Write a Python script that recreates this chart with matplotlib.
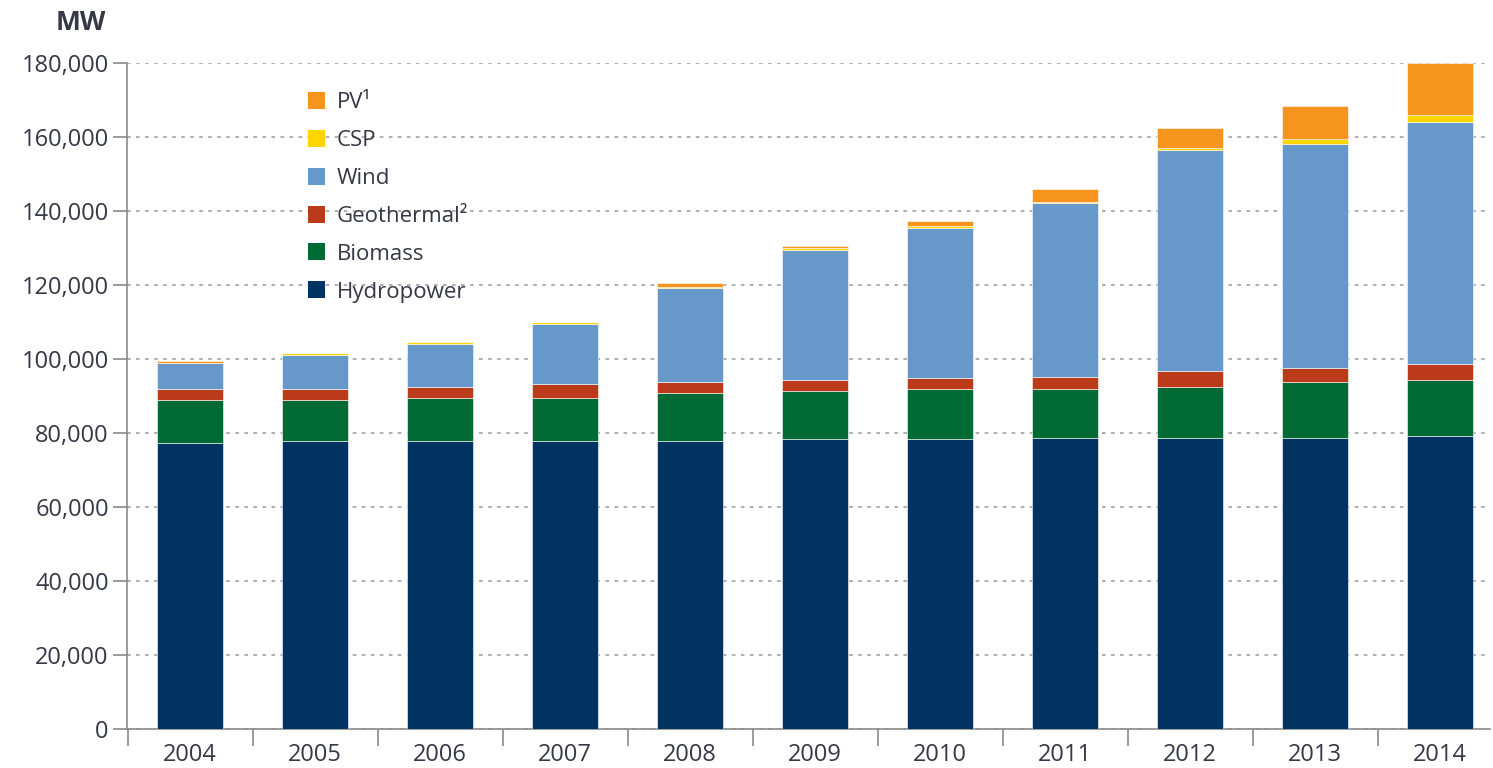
import matplotlib
matplotlib.use("Agg")
import matplotlib.pyplot as plt
from matplotlib.patches import Patch
import numpy as np

years = ["2004", "2005", "2006", "2007", "2008", "2009", "2010", "2011", "2012", "2013", "2014"]
hydropower = [77300, 77800, 77800, 77800, 77800, 78500, 78500, 78600, 78600, 78600, 79200]
biomass    = [11600, 11100, 11700, 11700, 12900, 12800, 13400, 13300, 13900, 15100, 15100]
geothermal = [3000, 3000, 2900, 3700, 3000, 3000, 3000, 3200, 4300, 3800, 4300]
wind       = [7000, 9200, 11700, 16300, 25500, 35200, 40500, 47100, 59700, 60500, 65500]
csp        = [100, 400, 500, 500, 200, 600, 600, 200, 400, 1400, 1800]
pv         = [400, 100, 100, 100, 1200, 500, 1300, 3500, 5400, 9000, 14000]

series = [
    ("Hydropower", hydropower, "#003362"),
    ("Biomass", biomass, "#006a35"),
    ("Geothermal\u00b2", geothermal, "#bb3a1a"),
    ("Wind", wind, "#6699c9"),
    ("CSP", csp, "#ffd500"),
    ("PV\u00b9", pv, "#f7941d"),
]

plt.rcParams['font.family'] = ['Open Sans', 'DejaVu Sans']
text_color = "#353845"

fig = plt.figure(figsize=(14.93, 7.68), dpi=100)
ax = fig.add_axes([0.085, 0.0508, 0.913, 0.8672])

x = np.arange(len(years))
bottom = np.zeros(len(years))
for name, vals, col in series:
    ax.bar(x, vals, width=0.53, bottom=bottom, color=col, edgecolor="white",
           linewidth=0.4, zorder=3)
    bottom += np.array(vals)

ax.set_ylim(0, 180000)
ax.set_xlim(-0.505, 10.4)
ax.set_yticks(np.arange(0, 180001, 20000))
ax.set_yticklabels([f"{v:,}" for v in range(0, 180001, 20000)])
ax.yaxis.grid(True, linestyle=(0, (2, 3)), color="#a8a8a8", linewidth=1.3, zorder=0)
ax.set_axisbelow(True)

# x ticks between bars, labels centered
ax.set_xticks(np.arange(-0.5, 10.5, 1.0))
ax.set_xticklabels([])
ax.set_xticks(x, minor=True)
ax.set_xticklabels(years, minor=True)
ax.tick_params(axis="x", which="major", length=12, width=1.2, color="#8a8a8a", direction="out")
ax.tick_params(axis="x", which="minor", length=0, pad=10, labelsize=17, labelcolor=text_color)
ax.tick_params(axis="y", length=10, width=1.2, color="#8a8a8a", labelsize=17,
               labelcolor=text_color, pad=3)

for s in ["top", "right"]:
    ax.spines[s].set_visible(False)
for s in ["left", "bottom"]:
    ax.spines[s].set_color("#8a8a8a")
    ax.spines[s].set_linewidth(1.2)

fig.text(0.0543, 0.9707, "MW", fontsize=19, fontweight="bold", color=text_color,
         ha="center", va="center")

handles = [Patch(facecolor=col, edgecolor="none", label=name) for name, _, col in series][::-1]
leg = ax.legend(handles=handles, loc="upper left", bbox_to_anchor=(0.126, 0.970),
                frameon=False, fontsize=16, labelspacing=0.75, handlelength=0.8,
                handleheight=0.8, handletextpad=0.5, borderaxespad=0)
for t in leg.get_texts():
    t.set_color(text_color)

fig.savefig("out.png", dpi=100)
